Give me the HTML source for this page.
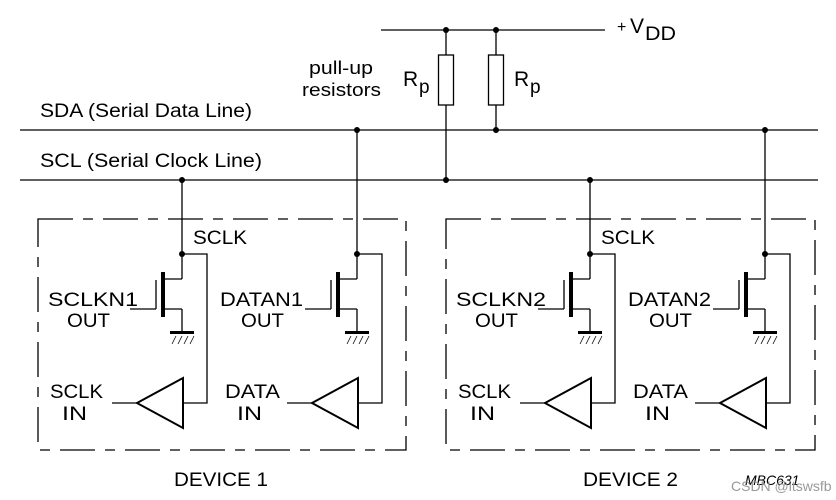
<!DOCTYPE html>
<html><head><meta charset="utf-8"><style>
body{margin:0;background:#fff}
svg{display:block}
text{font-family:"Liberation Sans",sans-serif;fill:#000}
</style></head><body>
<svg width="836" height="500" viewBox="0 0 836 500" xmlns="http://www.w3.org/2000/svg">
<g stroke="#000" stroke-width="1.3" fill="none">
<line x1="381" y1="30" x2="605" y2="30"/>
<line x1="20" y1="130" x2="818" y2="130"/>
<line x1="20" y1="180" x2="818" y2="180"/>
<line x1="446" y1="30" x2="446" y2="55"/><rect x="438.5" y="55" width="15" height="50"/><line x1="446" y1="105" x2="446" y2="180"/>
<line x1="496" y1="30" x2="496" y2="55"/><rect x="488.5" y="55" width="15" height="50"/><line x1="496" y1="105" x2="496" y2="130"/>
</g>
<g fill="#000">
<circle cx="446" cy="30" r="3"/><circle cx="496" cy="30" r="3"/>
<circle cx="357" cy="130" r="3"/><circle cx="496" cy="130" r="3"/><circle cx="765" cy="130" r="3"/>
<circle cx="182" cy="180" r="3"/><circle cx="446" cy="180" r="3"/><circle cx="590" cy="180" r="3"/>
</g>
<defs>
<g id="cell">
<g stroke="#000" stroke-width="1.3" fill="none">
<line x1="0" y1="254" x2="0" y2="279"/><line x1="0" y1="279" x2="-19" y2="279"/>
<line x1="0" y1="309" x2="-19" y2="309"/><line x1="0" y1="309" x2="0" y2="333"/>
<line x1="-26" y1="280" x2="-26" y2="309"/><line x1="-26" y1="309" x2="-52" y2="309"/>
<polyline points="0,254 25,254 25,403 1,403"/>
<polygon points="1,378 1,428 -45,403" stroke-width="2"/>
<line x1="-45" y1="403" x2="-70" y2="403"/>
<g stroke-width="0.8"><line x1="-10" y1="344" x2="-6" y2="336"/><line x1="-4" y1="344" x2="0" y2="336"/><line x1="2" y1="344" x2="6" y2="336"/><line x1="8" y1="344" x2="12" y2="336"/></g>
</g>
<rect x="-21" y="272" width="4" height="45" fill="#000"/>
<rect x="-12" y="331" width="24" height="3" fill="#000"/>
<circle cx="0" cy="254" r="3" fill="#000"/>
</g>
</defs>
<g stroke="#000" stroke-width="1.3" fill="none">
<line x1="182" y1="180" x2="182" y2="254"/><line x1="357" y1="130" x2="357" y2="254"/>
<line x1="590" y1="180" x2="590" y2="254"/><line x1="765" y1="130" x2="765" y2="254"/>
<rect x="38" y="219" width="368" height="231" stroke-dasharray="35,10,10,10"/>
<rect x="446" y="219" width="369" height="231" stroke-dasharray="35,10,10,10"/>
</g>
<use href="#cell" x="182"/><use href="#cell" x="357"/><use href="#cell" x="590"/><use href="#cell" x="765"/>
<g font-size="19" lengthAdjust="spacingAndGlyphs">
<text x="40" y="117" textLength="212" lengthAdjust="spacingAndGlyphs">SDA (Serial Data Line)</text>
<text x="40" y="167" textLength="222" lengthAdjust="spacingAndGlyphs">SCL (Serial Clock Line)</text>
<text x="309" y="74" font-size="18" textLength="64" lengthAdjust="spacingAndGlyphs">pull-up</text><text x="302" y="96" font-size="18" textLength="79" lengthAdjust="spacingAndGlyphs">resistors</text>
<text x="403" y="86" font-size="21">R</text><text x="419" y="93">p</text>
<text x="514" y="86" font-size="21">R</text><text x="530" y="93">p</text>
<text x="617" y="32" font-size="16">+</text><text x="630" y="33" font-size="21">V</text><text x="645" y="40" textLength="31" lengthAdjust="spacingAndGlyphs">DD</text>
<text x="193" y="244" textLength="54" lengthAdjust="spacingAndGlyphs">SCLK</text><text x="601" y="244" textLength="54" lengthAdjust="spacingAndGlyphs">SCLK</text>
<text x="48" y="306" textLength="90" lengthAdjust="spacingAndGlyphs">SCLKN1</text><text x="67" y="327" textLength="43" lengthAdjust="spacingAndGlyphs">OUT</text>
<text x="220" y="306" textLength="83" lengthAdjust="spacingAndGlyphs">DATAN1</text><text x="241" y="327" textLength="43" lengthAdjust="spacingAndGlyphs">OUT</text>
<text x="456" y="306" textLength="90" lengthAdjust="spacingAndGlyphs">SCLKN2</text><text x="475" y="327" textLength="43" lengthAdjust="spacingAndGlyphs">OUT</text>
<text x="628" y="306" textLength="83" lengthAdjust="spacingAndGlyphs">DATAN2</text><text x="649" y="327" textLength="43" lengthAdjust="spacingAndGlyphs">OUT</text>
<text x="50" y="398" textLength="53" lengthAdjust="spacingAndGlyphs">SCLK</text><text x="62" y="420" textLength="25" lengthAdjust="spacingAndGlyphs">IN</text>
<text x="225" y="398" textLength="55" lengthAdjust="spacingAndGlyphs">DATA</text><text x="237" y="420" textLength="25" lengthAdjust="spacingAndGlyphs">IN</text>
<text x="458" y="398" textLength="53" lengthAdjust="spacingAndGlyphs">SCLK</text><text x="470" y="420" textLength="25" lengthAdjust="spacingAndGlyphs">IN</text>
<text x="633" y="398" textLength="55" lengthAdjust="spacingAndGlyphs">DATA</text><text x="645" y="420" textLength="25" lengthAdjust="spacingAndGlyphs">IN</text>
<text x="174" y="486" textLength="94" lengthAdjust="spacingAndGlyphs">DEVICE 1</text><text x="583" y="486" textLength="95" lengthAdjust="spacingAndGlyphs">DEVICE 2</text>
</g>
<text x="745" y="485" font-size="14" font-style="italic">MBC631</text>
<text x="731" y="491" font-size="14" style="fill:#999">CSDN @itswsfb</text>
</svg>
</body></html>
